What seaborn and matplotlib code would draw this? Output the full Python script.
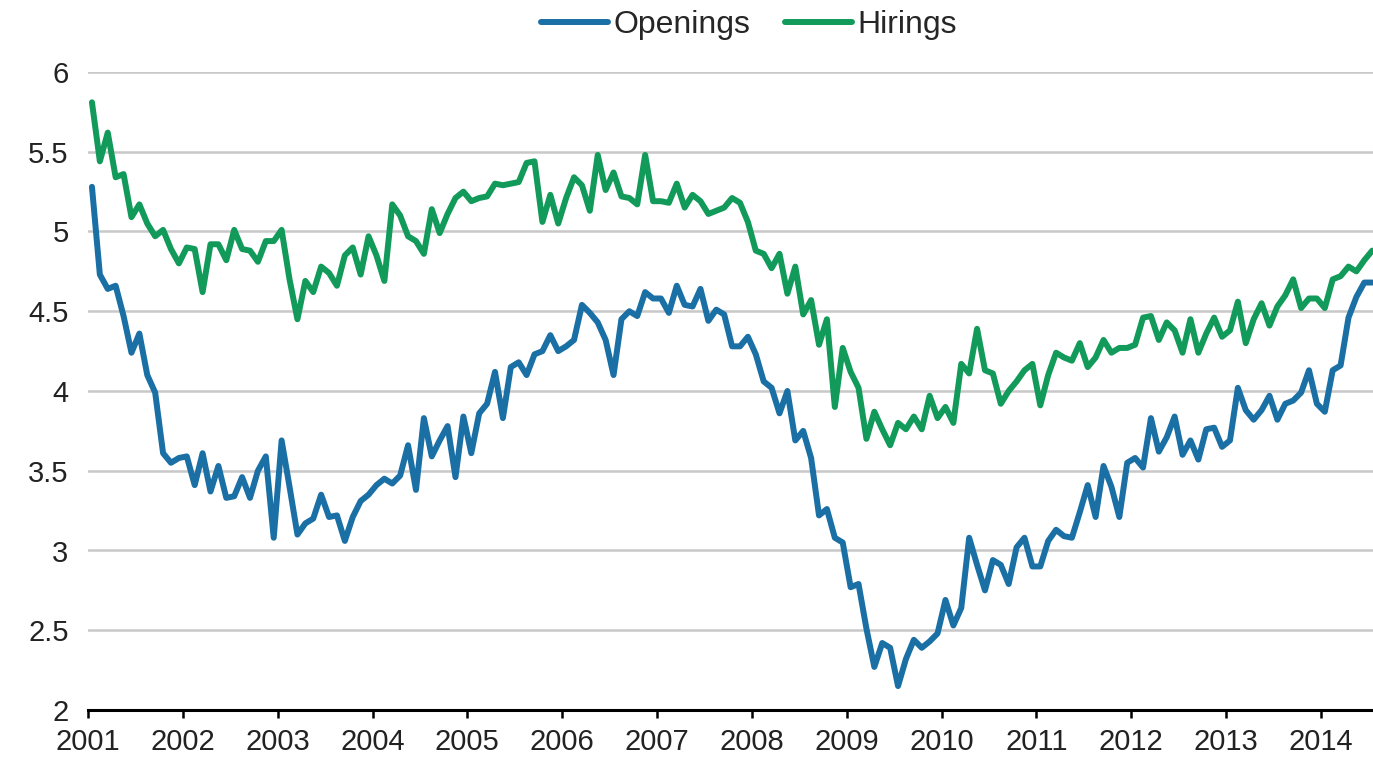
import numpy as np
import pandas as pd
import matplotlib
matplotlib.use('Agg')
import matplotlib.pyplot as plt
import seaborn as sns

# Monthly rates, Jan 2001 - Jul 2014
openings = [
    5.28, 4.73, 4.64, 4.66, 4.47, 4.24, 4.36, 4.10, 3.99, 3.61, 3.55, 3.58,
    3.59, 3.41, 3.61, 3.37, 3.53, 3.33, 3.34, 3.46, 3.33, 3.50, 3.59, 3.08,
    3.69, 3.40, 3.10, 3.17, 3.20, 3.35, 3.21, 3.22, 3.06, 3.21, 3.31, 3.35,
    3.41, 3.45, 3.42, 3.47, 3.66, 3.38, 3.83, 3.59, 3.69, 3.78, 3.46, 3.84,
    3.61, 3.86, 3.92, 4.12, 3.83, 4.15, 4.18, 4.10, 4.23, 4.25, 4.35, 4.25,
    4.28, 4.32, 4.54, 4.49, 4.43, 4.32, 4.10, 4.45, 4.50, 4.47, 4.62, 4.58,
    4.58, 4.49, 4.66, 4.54, 4.53, 4.64, 4.44, 4.51, 4.48, 4.28, 4.28, 4.34,
    4.23, 4.06, 4.02, 3.86, 4.00, 3.69, 3.75, 3.58, 3.22, 3.26, 3.08, 3.05,
    2.77, 2.79, 2.51, 2.27, 2.42, 2.39, 2.15, 2.32, 2.44, 2.39, 2.43, 2.48,
    2.69, 2.53, 2.64, 3.08, 2.91, 2.75, 2.94, 2.91, 2.79, 3.02, 3.08, 2.90,
    2.90, 3.06, 3.13, 3.09, 3.08, 3.24, 3.41, 3.21, 3.53, 3.40, 3.21, 3.55,
    3.58, 3.52, 3.83, 3.62, 3.71, 3.84, 3.60, 3.69, 3.57, 3.76, 3.77, 3.65,
    3.69, 4.02, 3.88, 3.82, 3.88, 3.97, 3.82, 3.92, 3.94, 3.99, 4.13, 3.92,
    3.87, 4.13, 4.16, 4.46, 4.59, 4.68, 4.68,
]
hirings = [
    5.81, 5.44, 5.62, 5.34, 5.36, 5.09, 5.17, 5.05, 4.97, 5.01, 4.89, 4.80,
    4.90, 4.89, 4.62, 4.92, 4.92, 4.82, 5.01, 4.89, 4.88, 4.81, 4.94, 4.94,
    5.01, 4.70, 4.45, 4.69, 4.62, 4.78, 4.74, 4.66, 4.85, 4.90, 4.73, 4.97,
    4.85, 4.69, 5.17, 5.10, 4.97, 4.94, 4.86, 5.14, 4.99, 5.11, 5.21, 5.25,
    5.19, 5.21, 5.22, 5.30, 5.29, 5.30, 5.31, 5.43, 5.44, 5.06, 5.23, 5.05,
    5.21, 5.34, 5.29, 5.13, 5.48, 5.26, 5.37, 5.22, 5.21, 5.17, 5.48, 5.19,
    5.19, 5.18, 5.30, 5.15, 5.23, 5.19, 5.11, 5.13, 5.15, 5.21, 5.18, 5.06,
    4.88, 4.86, 4.77, 4.86, 4.61, 4.78, 4.48, 4.57, 4.29, 4.45, 3.90, 4.27,
    4.12, 4.02, 3.70, 3.87, 3.76, 3.66, 3.80, 3.76, 3.84, 3.76, 3.97, 3.83,
    3.90, 3.80, 4.17, 4.11, 4.39, 4.13, 4.11, 3.92, 4.00, 4.06, 4.13, 4.17,
    3.91, 4.10, 4.24, 4.21, 4.19, 4.30, 4.15, 4.21, 4.32, 4.24, 4.27, 4.27,
    4.29, 4.46, 4.47, 4.32, 4.43, 4.38, 4.24, 4.45, 4.24, 4.36, 4.46, 4.34,
    4.38, 4.56, 4.30, 4.45, 4.55, 4.41, 4.53, 4.60, 4.70, 4.52, 4.58, 4.58,
    4.52, 4.70, 4.72, 4.78, 4.75, 4.82, 4.88,
]
years = list(range(2001, 2015))
y_ticks = [2, 2.5, 3, 3.5, 4, 4.5, 5, 5.5, 6]
series_names = ['Openings', 'Hirings']
colors = ['#1a6fa5', '#129a5a']

# mid-month positions on a decimal-year axis
months = np.arange(len(openings))
t = 2001 + (months + 0.5) / 12

df = pd.DataFrame({
    't': np.concatenate([t, t]),
    'value': openings + hirings,
    'series': [series_names[0]] * len(openings) + [series_names[1]] * len(hirings),
})

sns.set_style('white')
plt.rcParams['font.family'] = ['Liberation Sans', 'DejaVu Sans']

fig = plt.figure(figsize=(13.73, 7.66), dpi=100)
ax = fig.add_axes([88 / 1373, 56 / 766, 1 - 88 / 1373, (710 - 72) / 766])

sns.lineplot(data=df, x='t', y='value', hue='series', palette=colors,
             linewidth=4.3, ax=ax, legend=True,
             solid_joinstyle='round', solid_capstyle='round')

ax.set_xlim(2001, 2014.55)
ax.set_ylim(2, 6)
ax.set_xticks(years)
ax.set_xticklabels([str(y) for y in years])
ax.set_yticks(y_ticks)
ax.set_yticklabels(['%g' % v for v in y_ticks])
ax.set_xlabel('')
ax.set_ylabel('')

ax.grid(axis='y', color='#c8c8c8', linewidth=1.8)
ax.grid(axis='x', visible=False)
ax.set_axisbelow(True)

for side in ['top', 'right', 'left']:
    ax.spines[side].set_visible(False)
ax.spines['bottom'].set_color('black')
ax.spines['bottom'].set_linewidth(2.2)

ax.tick_params(axis='x', direction='out', length=6, width=1.8, color='black',
               labelsize=21, labelcolor='#222222', pad=7, bottom=True)
ax.tick_params(axis='y', length=0, labelsize=21, labelcolor='#222222', pad=14)

handles, labels = ax.get_legend_handles_labels()
ax.get_legend().remove()
fig.legend(handles, labels, loc='center', bbox_to_anchor=(749 / 1373, 1 - 25 / 766),
           ncol=2, frameon=False, fontsize=23, handlelength=2.1, handletextpad=0.15,
           columnspacing=1.1, borderaxespad=0)

fig.savefig('out.png', dpi=100)
